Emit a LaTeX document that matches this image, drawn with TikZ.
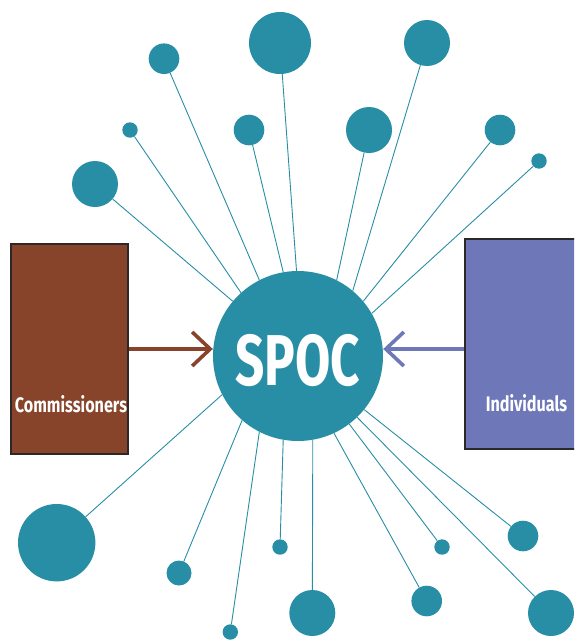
\documentclass[tikz,border=0pt]{standalone}
\usepackage{fontspec}
\setmainfont{Fira Sans}
\newfontfamily\condfont[FakeStretch=0.77]{Fira Sans}
\newfontfamily\spocfont[FakeStretch=0.71]{Fira Sans}
\usetikzlibrary{arrows.meta}
\definecolor{teal1}{RGB}{40,142,165}
\definecolor{brownbox}{RGB}{135,68,42}
\definecolor{purplebox}{RGB}{110,120,184}
\definecolor{edgegray}{RGB}{45,40,40}
\begin{document}
\begin{tikzpicture}[x=1pt,y=-1pt,
  sat/.style={circle,fill=teal1,inner sep=0pt,minimum size=#1},
  spoke/.style={draw=teal1,line width=0.9pt},
  box/.style={draw=edgegray,line width=1.2pt,inner sep=0pt},
  flow/.style={line width=3.6pt,-{Straight Barb[length=18pt,width=34pt]}},
  lbl/.style={text=white,inner sep=0pt,font=\condfont\bfseries\fontsize{21}{23}\selectfont}
]
\useasboundingbox (0,0) rectangle (574,640);
\clip (0,0) rectangle (574,640);

% boxes
\node[box,fill=brownbox,minimum width=117pt,minimum height=210pt] (comm) at (69.5,349) {};
\node[box,fill=purplebox,minimum width=124pt,minimum height=210pt] (ind) at (527,344) {};
\node[lbl] (commtxt) at (71,404) {Commissioners};
\node[lbl] (indtxt) at (526.5,403) {Individuals};

% centre
\node[circle,fill=teal1,inner sep=0pt,minimum size=170pt,text=white,
      font=\spocfont\bfseries\fontsize{72}{72}\selectfont] (spoc) at (298,356)
      {\raisebox{-4pt}[\height][0pt]{SPOC}};

% satellites
\node[sat=30.6pt] (s1) at (164,58.7) {};
\node[sat=62pt]   (s2) at (280,43) {};
\node[sat=46pt]   (s3) at (427,43) {};
\node[sat=15.4pt] (s4) at (130,130) {};
\node[sat=30.6pt] (s5) at (249,130) {};
\node[sat=46pt]   (s6) at (369,130) {};
\node[sat=30.6pt] (s7) at (500,130) {};
\node[sat=46pt]   (s8) at (95,184) {};
\node[sat=15.4pt] (s9) at (539,161) {};
\node[sat=77.4pt] (s10) at (56.7,542.7) {};
\node[sat=25pt]   (s11) at (179,573) {};
\node[sat=15.4pt] (s12) at (280,547) {};
\node[sat=46pt]   (s13) at (312.3,613) {};
\node[sat=15.4pt] (s14) at (230.3,632) {};
\node[sat=15.4pt] (s15) at (442,547) {};
\node[sat=30.6pt] (s16) at (426.7,601) {};
\node[sat=30.6pt] (s17) at (523,536) {};
\node[sat=46pt]   (s18) at (551,613) {};

% spokes
\draw[spoke] (s1) -- (spoc.117.5);
\draw[spoke] (s2) -- (spoc.91);
\draw[spoke] (s3) -- (spoc.50);
\draw[spoke] (s4) -- (spoc.132);
\draw[spoke] (s5) -- (spoc.100.5);
\draw[spoke] (s6) -- (spoc.63);
\draw[spoke] (s7) -- (spoc.40);
\draw[spoke] (s8) -- (spoc.140);
\draw[spoke] (s9) -- (spoc.30);
\draw[spoke] (s10) -- (spoc.207);
\draw[spoke] (s11) -- (spoc.229);
\draw[spoke] (s12) -- (spoc.260);
\draw[spoke] (s13) -- (spoc.280);
\draw[spoke] (s14) -- (spoc.243);
\draw[spoke] (s15) -- (spoc.-53);
\draw[spoke] (s16) -- (spoc.-65.5);
\draw[spoke] (s17) -- (spoc.-39);
\draw[spoke] (s18) -- (spoc.-46);

% arrows
\draw[flow,draw=brownbox] (comm.east) -- (comm.east -| spoc.west);
\draw[flow,draw=purplebox] (ind.west |- comm.east) -- (comm.east -| spoc.east);
\end{tikzpicture}
\end{document}
